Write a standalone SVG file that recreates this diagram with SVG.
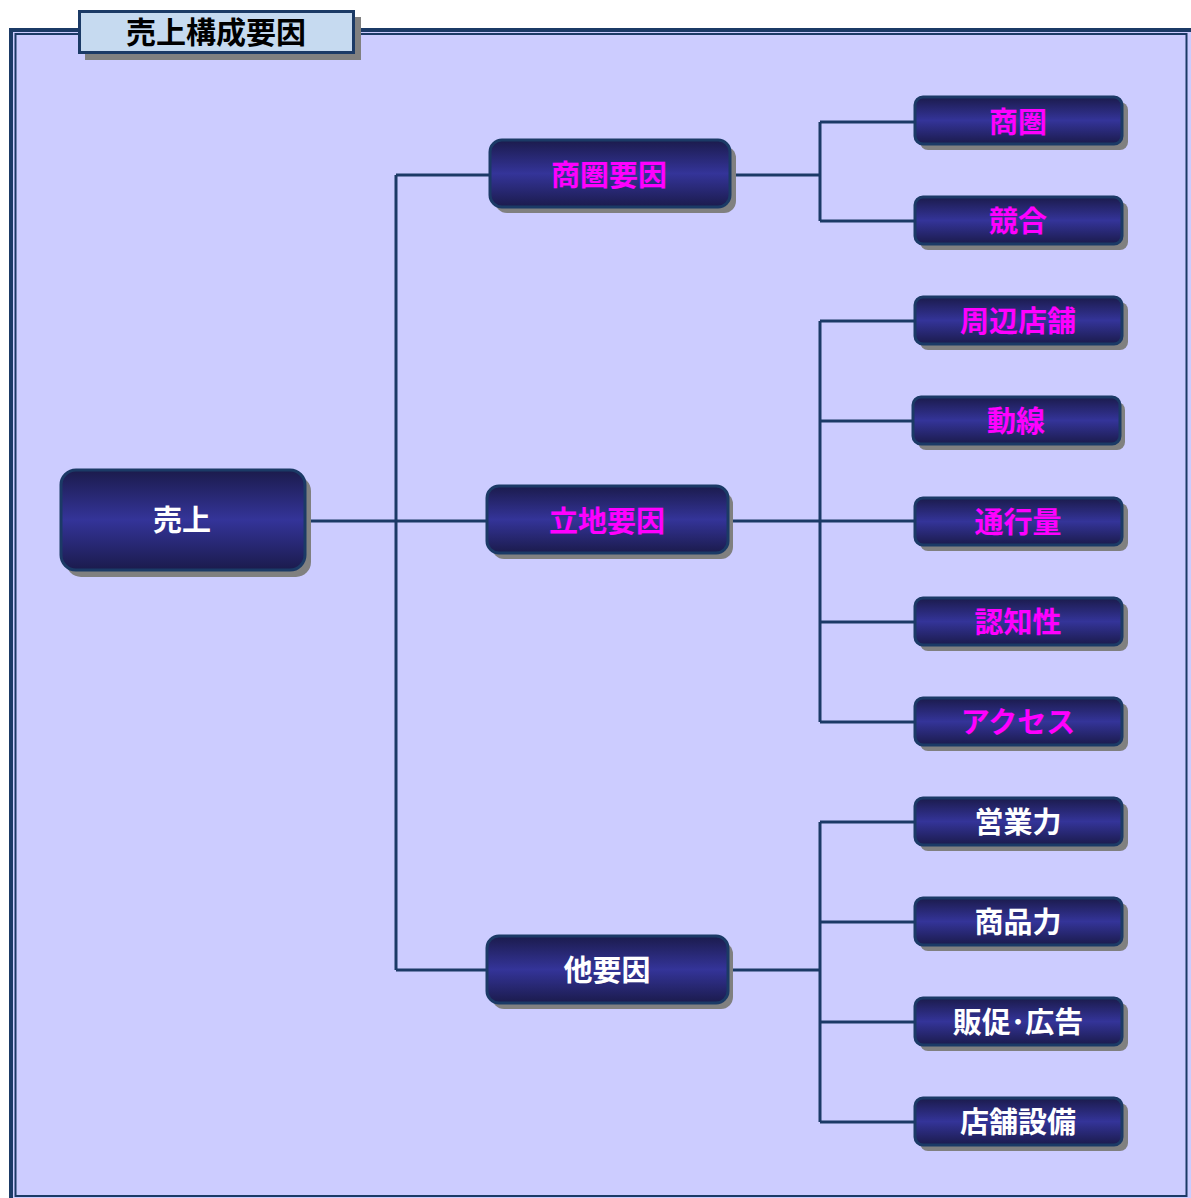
<svg xmlns="http://www.w3.org/2000/svg" width="1191" height="1198" viewBox="0 0 1191 1198">
<defs>
<linearGradient id="g" x1="0" y1="0" x2="0" y2="1">
<stop offset="0" stop-color="#1b1b4c"/>
<stop offset="0.5" stop-color="#343499"/>
<stop offset="1" stop-color="#1b1b4c"/>
</linearGradient>
<style>
.box{fill:url(#g);stroke:#1b3a66;stroke-width:3}
.sh{fill:#808080}
.t{font-family:"Noto Sans CJK JP","Noto Sans CJK SC",sans-serif;font-weight:bold;font-size:29px;text-anchor:middle}
.m{fill:#ff00ff}
.w{fill:#ffffff}
.c{fill:none;stroke:#1b3a66;stroke-width:3}
</style>
</defs>
<rect width="1191" height="1198" fill="#ffffff"/>
<rect x="11" y="30" width="1182" height="1172" fill="#ccccff" stroke="#1b3a66" stroke-width="4"/>
<rect x="15.5" y="34" width="1171" height="1162" fill="#ccccff" stroke="#1b3a66" stroke-width="2"/>
<g id="title">
<rect x="85" y="17" width="276" height="43" class="sh"/>
<rect x="79.5" y="11.5" width="274" height="41" fill="#c6daf0" stroke="#1b3a66" stroke-width="3"/>
<text x="216" y="43" class="t" style="font-size:30px" fill="#000000">売上構成要因</text>
</g>
<g id="connectors" class="c">
<path class="c" d="M305 521H486M396 175V970M396 175H489M396 970H486"/>
<path class="c" d="M730 175H820M820 122V221M820 122H914M820 221H914"/>
<path class="c" d="M728 521H914M820 321V722M820 321H914M820 421H912M820 622H914M820 722H914"/>
<path class="c" d="M728 970H820M820 822V1122M820 822H914M820 922H914M820 1022H914M820 1122H914"/>
</g>
<g id="n-uriage">
<rect x="66" y="476" width="245" height="101" rx="15" class="sh"/>
<rect x="61" y="470" width="244" height="100" rx="15" class="box"/>
<text x="182" y="531" class="t w">売上</text>
</g>
<g id="n-shokenyoin">
<rect x="495" y="146" width="241" height="67" rx="12" class="sh"/>
<rect x="490" y="140" width="240" height="67" rx="12" class="box"/>
<text x="609" y="186" class="t m">商圏要因</text>
</g>
<g id="n-ricchiyoin">
<rect x="492" y="492" width="241" height="67" rx="12" class="sh"/>
<rect x="487" y="486" width="241" height="67" rx="12" class="box"/>
<text x="607" y="532" class="t m">立地要因</text>
</g>
<g id="n-tayoin">
<rect x="492" y="942" width="241" height="67" rx="12" class="sh"/>
<rect x="487" y="936" width="241" height="67" rx="12" class="box"/>
<text x="607" y="981" class="t w">他要因</text>
</g>
<g id="n-shoken">
<rect x="920" y="102" width="208" height="48" rx="8" class="sh"/>
<rect x="915" y="97" width="207" height="47" rx="8" class="box"/>
<text x="1018" y="133" class="t m">商圏</text>
</g>
<g id="n-kyogo">
<rect x="920" y="202" width="208" height="48" rx="8" class="sh"/>
<rect x="915" y="197" width="207" height="47" rx="8" class="box"/>
<text x="1018" y="232" class="t m">競合</text>
</g>
<g id="n-shuhen">
<rect x="920" y="302" width="208" height="48" rx="8" class="sh"/>
<rect x="915" y="297" width="207" height="47" rx="8" class="box"/>
<text x="1018" y="332" class="t m">周辺店舗</text>
</g>
<g id="n-dosen">
<rect x="918" y="402" width="207" height="48" rx="8" class="sh"/>
<rect x="913" y="397" width="207" height="47" rx="8" class="box"/>
<text x="1016" y="432" class="t m">動線</text>
</g>
<g id="n-tsukoryo">
<rect x="920" y="503" width="208" height="48" rx="8" class="sh"/>
<rect x="915" y="498" width="207" height="47" rx="8" class="box"/>
<text x="1018" y="533" class="t m">通行量</text>
</g>
<g id="n-ninchi">
<rect x="920" y="603" width="208" height="48" rx="8" class="sh"/>
<rect x="915" y="598" width="207" height="47" rx="8" class="box"/>
<text x="1018" y="633" class="t m">認知性</text>
</g>
<g id="n-access">
<rect x="920" y="703" width="208" height="48" rx="8" class="sh"/>
<rect x="915" y="698" width="207" height="47" rx="8" class="box"/>
<text x="1018" y="733" class="t m">アクセス</text>
</g>
<g id="n-eigyo">
<rect x="920" y="803" width="208" height="48" rx="8" class="sh"/>
<rect x="915" y="798" width="207" height="47" rx="8" class="box"/>
<text x="1018" y="833" class="t w">営業力</text>
</g>
<g id="n-shohin">
<rect x="920" y="903" width="208" height="48" rx="8" class="sh"/>
<rect x="915" y="898" width="207" height="47" rx="8" class="box"/>
<text x="1018" y="933" class="t w">商品力</text>
</g>
<g id="n-hansoku">
<rect x="920" y="1003" width="208" height="48" rx="8" class="sh"/>
<rect x="915" y="998" width="207" height="47" rx="8" class="box"/>
<text x="1018" y="1033" class="t w">販促･広告</text>
</g>
<g id="n-setsubi">
<rect x="920" y="1103" width="208" height="48" rx="8" class="sh"/>
<rect x="915" y="1098" width="207" height="47" rx="8" class="box"/>
<text x="1018" y="1133" class="t w">店舗設備</text>
</g>
</svg>
